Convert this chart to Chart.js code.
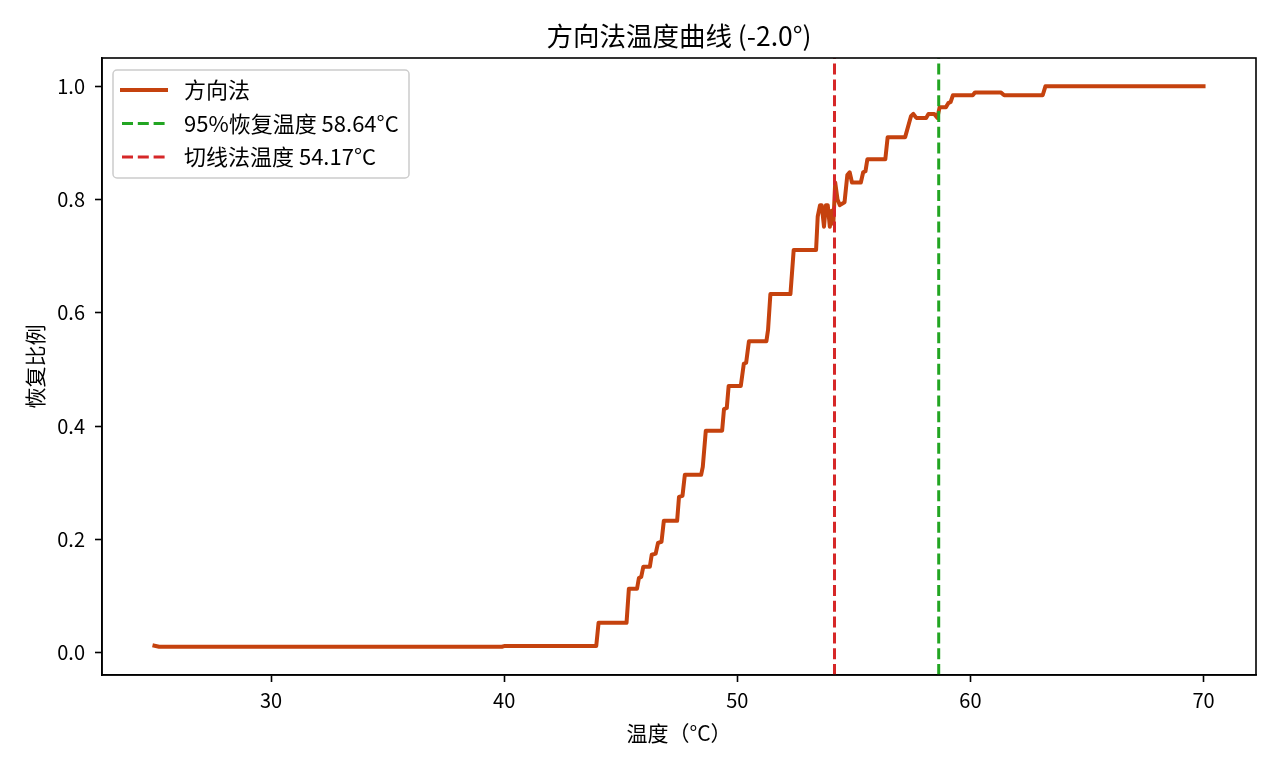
<!DOCTYPE html>
<html>
<head>
<meta charset="utf-8">
<script src="https://cdn.jsdelivr.net/npm/chart.js@4.4.1/dist/chart.umd.min.js"></script>
<style>
  html, body { margin: 0; padding: 0; background: #fff; }
  #wrap { width: 1280px; height: 768px; }
</style>
</head>
<body>
<div id="wrap"><canvas id="chart" width="1280" height="768"></canvas></div>
<script>
// Courbe de récupération
const temps = [25.0, 25.2, 39.9, 40.0, 43.95, 44.05, 45.25, 45.35, 45.7, 45.78, 45.88, 45.97,
  46.25, 46.33, 46.5, 46.6, 46.75, 46.85, 47.42, 47.5, 47.65, 47.75, 48.45, 48.52, 48.65,
  49.35, 49.43, 49.55, 49.63, 50.15, 50.28, 50.38, 50.5, 51.25, 51.32, 51.42, 52.28, 52.42,
  53.38, 53.45, 53.55, 53.62, 53.72, 53.8, 53.88, 53.97, 54.05, 54.12, 54.2, 54.3, 54.4,
  54.6, 54.72, 54.82, 54.92, 55.3, 55.4, 55.5, 55.58, 56.35, 56.45, 57.2, 57.45, 57.55,
  57.68, 58.1, 58.2, 58.45, 58.58, 58.68, 58.95, 59.05, 59.15, 59.25, 60.1, 60.2, 61.3,
  61.45, 63.1, 63.22, 70.0];
const ratios = [0.0125, 0.0106, 0.0106, 0.0118, 0.0118, 0.053, 0.053, 0.113, 0.113, 0.132, 0.134, 0.152,
  0.152, 0.173, 0.175, 0.194, 0.196, 0.233, 0.233, 0.275, 0.277, 0.314, 0.314, 0.328, 0.392,
  0.392, 0.430, 0.432, 0.471, 0.471, 0.510, 0.512, 0.550, 0.550, 0.570, 0.633, 0.633, 0.711,
  0.711, 0.770, 0.790, 0.790, 0.752, 0.790, 0.790, 0.752, 0.780, 0.757, 0.830, 0.800, 0.790,
  0.795, 0.843, 0.848, 0.830, 0.830, 0.848, 0.850, 0.871, 0.871, 0.910, 0.910, 0.947, 0.951,
  0.944, 0.944, 0.951, 0.951, 0.944, 0.963, 0.963, 0.970, 0.972, 0.984, 0.984, 0.989, 0.989,
  0.984, 0.984, 1.0, 1.0];

const recovery95 = 58.64;
const tangentTemp = 54.17;

const xTicks = [30, 40, 50, 60, 70];
const yTicks = [0.0, 0.2, 0.4, 0.6, 0.8, 1.0];
const xRange = [22.75, 72.25];
const yRange = [-0.0392, 1.0497];

const chartTitle = '方向法温度曲线 (-2.0°)';
const seriesLabels = ['方向法', '95%恢复温度 ' + recovery95.toFixed(2) + '°C', '切线法温度 ' + tangentTemp.toFixed(2) + '°C'];
const FONT = "'Noto Sans CJK SC', 'Noto Sans', sans-serif";

Chart.defaults.font.family = FONT;
Chart.defaults.color = '#000';

// Titre centré sur la zone du graphe, cadre complet + légende intérieure (comme matplotlib)
const framePlugin = {
  id: 'frame',
  afterDraw(chart) {
    const { ctx, chartArea: a } = chart;
    ctx.save();
    ctx.strokeStyle = '#000';
    ctx.lineWidth = 1.6;
    ctx.strokeRect(a.left, a.top, a.right - a.left, a.bottom - a.top);

    ctx.fillStyle = '#000';
    ctx.font = '26.5px ' + FONT;
    ctx.textAlign = 'center';
    ctx.textBaseline = 'middle';
    ctx.fillText(chartTitle, (a.left + a.right) / 2, a.top - 22);

    // légende
    const bx = a.left + 11, by = a.top + 12, bw = 296, bh = 108;
    ctx.beginPath();
    ctx.roundRect(bx, by, bw, bh, 4);
    ctx.fillStyle = 'rgba(255,255,255,0.8)';
    ctx.fill();
    ctx.strokeStyle = '#cccccc';
    ctx.lineWidth = 1.5;
    ctx.stroke();

    ctx.font = '22px ' + FONT;
    ctx.textAlign = 'left';
    chart.data.datasets.forEach((ds, i) => {
      const y = by + 20 + i * 33.5;
      ctx.beginPath();
      ctx.strokeStyle = ds.borderColor;
      ctx.lineWidth = ds.borderWidth;
      ctx.lineCap = ds.borderDash ? 'butt' : 'square';
      ctx.setLineDash(ds.borderDash ? ds.borderDash : []);
      ctx.moveTo(bx + 9, y);
      ctx.lineTo(bx + 53, y);
      ctx.stroke();
      ctx.setLineDash([]);
      ctx.fillStyle = '#000';
      ctx.fillText(ds.label, bx + 71, y);
    });
    ctx.restore();
  }
};

const ctx = document.getElementById('chart');
new Chart(ctx, {
  type: 'line',
  data: {
    datasets: [
      {
        label: seriesLabels[0],
        data: temps.map((t, i) => ({ x: t, y: ratios[i] })),
        borderColor: '#c5420e',
        borderWidth: 4,
        borderCapStyle: 'square',
        borderJoinStyle: 'round',
        pointRadius: 0,
        tension: 0,
        order: 2,
      },
      {
        label: seriesLabels[1],
        data: [{ x: recovery95, y: yRange[0] }, { x: recovery95, y: yRange[1] }],
        borderColor: '#22a522',
        borderWidth: 3,
        borderDash: [11, 4.8],
        pointRadius: 0,
        order: 1,
      },
      {
        label: seriesLabels[2],
        data: [{ x: tangentTemp, y: yRange[0] }, { x: tangentTemp, y: yRange[1] }],
        borderColor: '#d62728',
        borderWidth: 3,
        borderDash: [11, 4.8],
        pointRadius: 0,
        order: 1,
      },
    ],
  },
  options: {
    responsive: false,
    animation: false,
    layout: { padding: { left: 0, right: 24, top: 58, bottom: 0 } },
    plugins: {
      legend: { display: false },
      tooltip: { enabled: false },
      title: { display: false },
    },
    scales: {
      x: {
        type: 'linear',
        min: xRange[0],
        max: xRange[1],
        afterBuildTicks: (s) => { s.ticks = xTicks.map(v => ({ value: v })); },
        afterFit: (s) => { s.height = 93; },
        grid: { drawOnChartArea: false, drawTicks: true, tickLength: 7, tickWidth: 1.6, color: '#000' },
        border: { display: true, color: '#000', width: 1.6 },
        ticks: { font: { size: 20 }, padding: 6, maxRotation: 0, callback: (v) => String(v) },
        title: { display: true, text: '温度（°C）', font: { size: 21 }, padding: { top: 0, bottom: 22 } },
      },
      y: {
        type: 'linear',
        min: yRange[0],
        max: yRange[1],
        afterBuildTicks: (s) => { s.ticks = yTicks.map(v => ({ value: v })); },
        afterFit: (s) => { s.width = 102; },
        grid: { drawOnChartArea: false, drawTicks: true, tickLength: 7, tickWidth: 1.6, color: '#000' },
        border: { display: true, color: '#000', width: 1.6 },
        ticks: { font: { size: 20 }, padding: 10, callback: (v) => v.toFixed(1) },
        title: { display: true, text: '恢复比例', font: { size: 21 }, padding: { top: 22, bottom: 0 } },
      },
    },
  },
  plugins: [framePlugin],
});
</script>
</body>
</html>
